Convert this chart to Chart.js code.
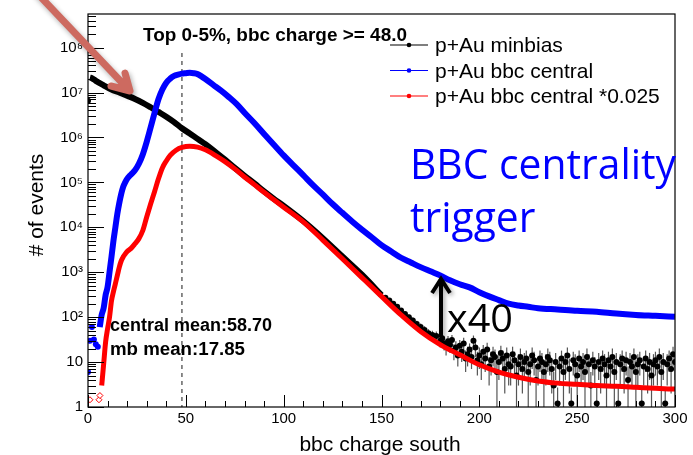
<!DOCTYPE html>
<html>
<head>
<meta charset="utf-8">
<script src="https://cdn.jsdelivr.net/npm/chart.js@4.4.1/dist/chart.umd.min.js"></script>
<style>
  html, body { margin: 0; padding: 0; background: #fff; }
  #wrap { position: relative; width: 693px; height: 455px; }
</style>
</head>
<body>
<div id="wrap"><canvas id="chart" width="693" height="455"></canvas></div>
<script>
// ---- data ----
const xTicks = [0, 50, 100, 150, 200, 250, 300];
const yTicks = [1, 10, 1e2, 1e3, 1e4, 1e5, 1e6, 1e7, 1e8];
const yTickLabels = ["1", "10", "10\u00B2", "10\u00B3", "10\u2074", "10\u2075", "10\u2076", "10\u2077", "10\u2078"];
const triggerCut = 48;

// p+Au minbias, smooth part
const minbiasX = [1, 2, 4, 8, 12, 16, 20, 24, 28, 32, 36, 40, 44, 48, 52, 56, 60, 65, 70, 75,
  80, 85, 90, 95, 100, 110, 120, 130, 140, 150];
const minbiasY = [2.14e7, 2.09e7, 1.82e7, 1.45e7, 1.17e7, 1.0e7, 8.5e6, 7.2e6, 5.9e6, 4.7e6,
  3.7e6, 2.9e6, 2.2e6, 1.6e6, 1.23e6, 9.3e5, 7.1e5, 4.8e5, 3.2e5, 2.1e5,
  1.4e5, 9.5e4, 6.3e4, 4.3e4, 3.0e4, 1.38e4, 5750, 2240, 880, 310];

// p+Au minbias, first bin and noisy tail (with errors)
const minbiasTailX = [0, 152, 154, 156, 158, 160, 162, 164, 166, 168, 170, 172, 174, 176, 178, 180,
  181, 182, 183, 184, 185, 186, 187, 188, 189, 190, 191, 192, 193, 194, 195, 196, 197, 198, 199, 200,
  201, 202, 203, 204, 205, 206, 207, 208, 209, 210, 211, 212, 213, 214, 215, 216, 217, 218, 219, 220,
  221, 222, 223, 224, 225, 226, 227, 228, 229, 230, 231, 232, 233, 234, 235, 236, 237, 238, 239, 240,
  241, 242, 243, 244, 245, 246, 247, 248, 249, 250, 251, 252, 253, 254, 255, 256, 257, 258, 259, 260,
  261, 262, 263, 264, 265, 266, 267, 268, 269, 270, 271, 272, 273, 274, 275, 276, 277, 278, 279, 280,
  281, 282, 283, 284, 285, 286, 287, 288, 289, 290, 291, 292, 293, 294, 295, 296, 297, 298, 299, 300];
const minbiasTailY = [6.6e6, 270, 235, 200, 170, 140, 118, 100, 84, 70, 60, 52, 44, 40, 38, 30,
  34, 26, 22, 29, 24, 31, 18, 21, 14, 23, 17, 26, 12, 15, 19, 13, 30, 21, 11, 14,
  9, 17, 12, 19, 8, 11, 15, 13, 6, 10, 16, 12, 7, 14, 9, 8, 15, 11, 5, 9,
  13, 7, 10, 12, 6, 9, 14, 11, 4, 8, 12, 10, 6, 9, 13, 11, 7, 3, 10, 1.2,
  8, 12, 6, 10, 14, 7, 1.2, 11, 9, 5, 12, 8, 10, 6, 13, 9, 3, 11, 8, 1.2,
  10, 7, 12, 9, 5, 11, 8, 13, 6, 10, 1.2, 9, 12, 7, 11, 4, 10, 8, 13, 6,
  9, 11, 1.2, 8, 12, 7, 10, 5, 9, 11, 8, 13, 6, 10, 1.2, 9, 12, 7, 15, 10];
const minbiasTailErr = [0, 25, 23, 21, 19, 17, 16, 15, 14, 13, 12, 11, 10, 10, 10, 9,
  9, 8, 8, 9, 8, 9, 7, 8, 6, 8, 7, 9, 6, 7, 7, 6, 9, 8, 6, 7,
  5, 7, 6, 8, 5, 6, 7, 6, 5, 6, 7, 6, 5, 7, 6, 5, 7, 6, 4, 6,
  7, 5, 6, 6, 5, 6, 7, 6, 4, 5, 6, 6, 5, 6, 7, 6, 5, 3, 6, 1.5,
  5, 6, 5, 6, 7, 5, 1.5, 6, 6, 4, 6, 5, 6, 5, 7, 6, 3, 6, 5, 1.5,
  6, 5, 6, 6, 4, 6, 5, 7, 5, 6, 1.5, 6, 6, 5, 6, 4, 6, 5, 7, 5,
  6, 6, 1.5, 5, 6, 5, 6, 4, 6, 6, 5, 7, 5, 6, 1.5, 6, 6, 5, 7, 6];

// p+Au bbc central
const centralLowX = [0, 1, 2, 3, 4, 5];
const centralLowY = [6, 30, 60, 32, 25, 22];
const centralX = [6, 7, 8, 9, 10, 11, 12, 13, 14, 15, 16, 17, 18, 19, 20, 22, 24, 26, 28, 30,
  32, 34, 36, 38, 40, 42, 44, 46, 48, 50, 52, 54, 56, 58, 60, 64, 68, 72, 76, 80,
  85, 90, 95, 100, 105, 110, 115, 120, 125, 130, 135, 140, 145, 150, 155, 160, 165, 170, 175, 180,
  185, 190, 195, 200, 205, 210, 215, 220, 225, 230, 240, 250, 260, 270, 280, 290, 300];
const centralY = [60, 113, 160, 310, 470, 1000, 2200, 5000, 1.0e4, 2.0e4, 3.5e4, 5.6e4, 8.0e4, 1.0e5, 1.2e5, 1.5e5, 1.86e5, 2.6e5, 4.2e5, 8.0e5,
  1.66e6, 3.5e6, 7.1e6, 1.17e7, 1.66e7, 2.04e7, 2.34e7, 2.5e7, 2.63e7, 2.69e7, 2.75e7, 2.69e7, 2.57e7, 2.29e7, 2.0e7, 1.48e7, 1.1e7, 7.9e6, 5.5e6, 3.55e6,
  2.1e6, 1.2e6, 6.9e5, 4.0e5, 2.4e5, 1.45e5, 8.7e4, 5.4e4, 3.3e4, 2.1e4, 1.35e4, 8900, 6000, 4000, 2900, 2100, 1650, 1300, 1050, 850,
  660, 540, 460, 360, 290, 240, 200, 182, 170, 158, 148, 138, 132, 120, 112, 107, 102];

// p+Au bbc central *0.025
const scaledLowX = [1, 5.6, 6.1];
const scaledLowY = [1.45, 1.45, 1.8];
const scaledX = [7, 8, 9, 10, 11, 12, 13, 14, 15, 16, 17, 18, 19, 20, 22, 24, 26, 28, 30, 32,
  34, 36, 38, 40, 42, 45, 48, 52, 56, 60, 65, 70, 75, 80, 85, 90, 95, 100, 110, 120,
  130, 140, 150, 160, 170, 180, 190, 200, 210, 220, 230, 240, 250, 260, 270, 280, 290, 300];
const scaledY = [3, 9, 28, 55, 100, 230, 370, 560, 850, 1300, 1800, 2200, 2550, 2900, 3400, 4300, 5600, 8500, 1.7e4, 3.3e4,
  6.2e4, 1.2e5, 2.1e5, 3.0e5, 4.0e5, 5.2e5, 6.0e5, 6.4e5, 6.1e5, 5.3e5, 4.0e5, 2.9e5, 2.0e5, 1.32e5, 8.9e4, 6.0e4, 4.1e4, 2.8e4, 1.32e4, 5200,
  2000, 760, 290, 112, 48, 24.5, 14.5, 8.7, 6.0, 4.6, 3.8, 3.4, 3.2, 3.0, 2.9, 2.75, 2.6, 2.5];

const FONT = '"Liberation Sans", Arial, Helvetica, sans-serif';

function pts(xs, ys) {
  return xs.map((x, i) => ({ x: x, y: ys[i] }));
}

// draw text squeezed/stretched to a given width
function fitText(ctx, text, x, y, width) {
  const w = ctx.measureText(text).width;
  ctx.save();
  ctx.translate(x, y);
  ctx.scale(width / w, 1);
  ctx.fillText(text, 0, 0);
  ctx.restore();
}

// error bars, dashed cut line, frame, ticks and annotations
const decorations = {
  id: "decorations",
  beforeDatasetsDraw(chart) {
    const ctx = chart.ctx;
    const area = chart.chartArea;
    const xs = chart.scales.x;
    const ys = chart.scales.y;
    ctx.save();
    ctx.beginPath();
    ctx.rect(area.left, area.top, area.right - area.left, area.bottom - area.top);
    ctx.clip();

    // cut line
    ctx.strokeStyle = "#666";
    ctx.lineWidth = 1.5;
    ctx.setLineDash([4, 4]);
    const cx = xs.getPixelForValue(triggerCut);
    ctx.beginPath();
    ctx.moveTo(cx, 53);
    ctx.lineTo(cx, area.bottom);
    ctx.stroke();
    ctx.setLineDash([]);

    // error bars of the minbias tail
    ctx.strokeStyle = "#555";
    ctx.lineWidth = 1.2;
    minbiasTailX.forEach((x, i) => {
      const e = minbiasTailErr[i];
      if (!e) return;
      const v = minbiasTailY[i];
      const px = xs.getPixelForValue(x);
      const top = ys.getPixelForValue(v + e);
      const bot = v - e > 1 ? ys.getPixelForValue(v - e) : area.bottom;
      ctx.beginPath();
      ctx.moveTo(px, top);
      ctx.lineTo(px, bot);
      ctx.stroke();
    });
    ctx.restore();
  },
  afterDraw(chart) {
    const ctx = chart.ctx;
    const area = chart.chartArea;
    const xs = chart.scales.x;
    const ys = chart.scales.y;
    ctx.save();

    // frame
    ctx.strokeStyle = "#000";
    ctx.lineWidth = 1.2;
    ctx.strokeRect(area.left, area.top, area.right - area.left, area.bottom - area.top);

    // y ticks (inside, log minors)
    ctx.lineWidth = 1;
    for (let d = 0; d <= 8; d++) {
      for (let m = 1; m <= 9; m++) {
        const v = m * Math.pow(10, d);
        const py = ys.getPixelForValue(v);
        if (py < area.top) continue;
        const len = m === 1 ? 16 : 8;
        ctx.beginPath();
        ctx.moveTo(area.left, Math.round(py) + 0.5);
        ctx.lineTo(area.left + len, Math.round(py) + 0.5);
        ctx.stroke();
      }
    }
    // x ticks
    for (let v = 0; v <= 300; v += 10) {
      const px = Math.round(xs.getPixelForValue(v)) + 0.5;
      const len = v % 50 === 0 ? 12 : 6;
      ctx.beginPath();
      ctx.moveTo(px, area.bottom);
      ctx.lineTo(px, area.bottom - len);
      ctx.stroke();
    }

    // axis titles
    ctx.fillStyle = "#000";
    ctx.font = "21px " + FONT;
    ctx.textAlign = "center";
    ctx.textBaseline = "alphabetic";
    ctx.fillText("bbc charge south", 380, 451);
    ctx.save();
    ctx.translate(43, 205);
    ctx.rotate(-Math.PI / 2);
    ctx.fillText("# of events", 0, 0);
    ctx.restore();

    // text labels
    ctx.textAlign = "left";
    ctx.font = "bold 19px " + FONT;
    fitText(ctx, "Top 0-5%, bbc charge >= 48.0", 143, 41, 264);
    ctx.font = "bold 18px " + FONT;
    fitText(ctx, "central mean:58.70", 110, 331, 162);
    fitText(ctx, "mb mean:17.85", 110, 355, 135);

    // legend
    const legend = [
      ["p+Au minbias", "#000", 45],
      ["p+Au bbc central", "#0000ff", 70.5],
      ["p+Au bbc central *0.025", "#ff0000", 96]
    ];
    ctx.font = "21px " + FONT;
    legend.forEach(([label, color, y]) => {
      ctx.strokeStyle = color;
      ctx.lineWidth = 1.2;
      ctx.beginPath();
      ctx.moveTo(390, y);
      ctx.lineTo(428, y);
      ctx.stroke();
      ctx.fillStyle = color;
      ctx.beginPath();
      ctx.arc(409, y, 2.3, 0, Math.PI * 2);
      ctx.fill();
      ctx.fillStyle = "#000";
      ctx.fillText(label, 435, y + 7);
    });

    // big blue note
    ctx.fillStyle = "#0000ff";
    ctx.font = "42px \"Open Sans\", \"Noto Sans\", sans-serif";
    const w = ctx.measureText("BBC centrality").width;
    ctx.save();
    ctx.translate(410, 0);
    ctx.scale(266 / w, 1);
    ctx.fillText("BBC centrality", 0, 179);
    ctx.fillText("trigger", 0, 232);
    ctx.restore();

    // x40 with arrow
    ctx.fillStyle = "#000";
    ctx.font = "39px \"Open Sans\", \"Noto Sans\", sans-serif";
    fitText(ctx, "x40", 447, 332, 66);

    ctx.save();
    ctx.shadowColor = "rgba(0,0,0,0.35)";
    ctx.shadowBlur = 4;
    ctx.shadowOffsetX = 2;
    ctx.shadowOffsetY = 2;
    ctx.strokeStyle = "#000";
    ctx.lineWidth = 4;
    ctx.lineCap = "butt";
    ctx.lineJoin = "miter";
    ctx.beginPath();
    ctx.moveTo(441, 337);
    ctx.lineTo(441, 280);
    ctx.stroke();
    ctx.beginPath();
    ctx.moveTo(432, 293);
    ctx.lineTo(441, 279);
    ctx.lineTo(450, 293);
    ctx.stroke();
    ctx.restore();

    // salmon pointer arrow
    ctx.save();
    ctx.shadowColor = "rgba(0,0,0,0.3)";
    ctx.shadowBlur = 5;
    ctx.shadowOffsetX = 2;
    ctx.shadowOffsetY = 3;
    ctx.strokeStyle = "#cd6a60";
    ctx.lineWidth = 7;
    ctx.lineCap = "round";
    ctx.lineJoin = "round";
    ctx.beginPath();
    ctx.moveTo(36, -8);
    ctx.lineTo(128, 89);
    ctx.moveTo(125, 73);
    ctx.lineTo(130, 91);
    ctx.lineTo(111, 86);
    ctx.stroke();
    ctx.restore();

    ctx.restore();
  }
};

const ctx = document.getElementById("chart").getContext("2d");
new Chart(ctx, {
  type: "line",
  data: {
    datasets: [
      {
        label: "p+Au bbc central *0.025",
        data: pts(scaledX, scaledY),
        borderColor: "#ff0000",
        borderWidth: 5,
        pointRadius: 0,
        cubicInterpolationMode: "monotone",
        order: 0
      },
      {
        data: pts(scaledLowX, scaledLowY),
        showLine: false,
        pointStyle: "rectRot",
        pointRadius: 3,
        pointBorderColor: "#ff0000",
        pointBackgroundColor: "#ffffff",
        pointBorderWidth: 1,
        order: 0
      },
      {
        label: "p+Au bbc central",
        data: pts(centralX, centralY),
        borderColor: "#0000ff",
        borderWidth: 6,
        pointRadius: 0,
        cubicInterpolationMode: "monotone",
        order: 1
      },
      {
        data: pts(centralLowX, centralLowY),
        showLine: false,
        pointRadius: 3,
        pointBorderWidth: 0,
        pointBackgroundColor: "#0000ff",
        order: 1
      },
      {
        label: "p+Au minbias",
        data: pts(minbiasX, minbiasY),
        borderColor: "#000000",
        borderWidth: 6,
        pointRadius: 0,
        cubicInterpolationMode: "monotone",
        order: 2
      },
      {
        data: pts(minbiasTailX, minbiasTailY),
        showLine: false,
        pointRadius: 3,
        pointBorderWidth: 0,
        pointBackgroundColor: "#000000",
        order: 2
      }
    ]
  },
  options: {
    responsive: false,
    animation: false,
    events: [],
    layout: { padding: { top: 9, right: 18, left: 0, bottom: 0 } },
    plugins: { legend: { display: false }, tooltip: { enabled: false } },
    scales: {
      x: {
        type: "linear",
        min: 0,
        max: 300,
        afterBuildTicks: (s) => { s.ticks = xTicks.map((v) => ({ value: v })); },
        afterFit: (s) => { s.height = 48; },
        grid: { display: false, drawTicks: false },
        border: { display: false },
        ticks: { color: "#000", padding: 3, maxRotation: 0, autoSkip: false, font: { family: FONT, size: 15 } }
      },
      y: {
        type: "logarithmic",
        min: 1,
        max: 5.6e8,
        afterBuildTicks: (s) => { s.ticks = yTicks.map((v) => ({ value: v })); },
        afterFit: (s) => { s.width = 88; },
        grid: { display: false, drawTicks: false },
        border: { display: false },
        ticks: {
          color: "#000",
          padding: 5,
          autoSkip: false,
          font: { family: FONT, size: 15 },
          callback: (v, i) => yTickLabels[i]
        }
      }
    }
  },
  plugins: [decorations]
});
</script>
</body>
</html>
